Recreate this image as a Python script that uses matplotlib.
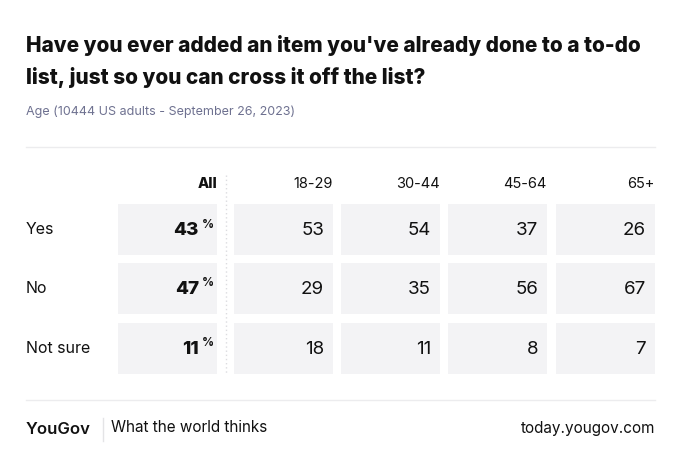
import matplotlib
matplotlib.use("Agg")
import matplotlib.pyplot as plt
from matplotlib.patches import Rectangle

title_lines = ["Have you ever added an item you've already done to a to-do",
               "list, just so you can cross it off the list?"]
subtitle = "Age (10444 US adults - September 26, 2023)"
rows = ["Yes", "No", "Not sure"]
columns = ["All", "18-29", "30-44", "45-64", "65+"]
all_values = [43, 47, 11]
age_values = {
    "18-29": [53, 29, 18],
    "30-44": [54, 35, 11],
    "45-64": [37, 56, 8],
    "65+": [26, 67, 7],
}

W, H = 680, 468
fig = plt.figure(figsize=(W / 100, H / 100), dpi=100)
ax = fig.add_axes([0, 0, 1, 1])
ax.set_xlim(0, W)
ax.set_ylim(H, 0)
ax.axis("off")

FONT = "Inter"
dark = "#111111"
cell_bg = "#f3f3f5"

# title
for k, line in enumerate(title_lines):
    ax.text(26, 45 + 32 * k, line, fontsize=15.0, fontweight=800, family=FONT,
            color=dark, va="center", ha="left")
ax.text(26, 112, subtitle, fontsize=9.0, family=FONT, color="#6e7190",
        va="center", ha="left")
ax.plot([26, 655], [147, 147], color="#ececee", lw=1)

# grid geometry
col_left = [118, 234, 341, 448, 556]
col_w = 99
row_top = [204, 263, 323]
row_h = 51

# headers
for i, c in enumerate(columns):
    ax.text(col_left[i] + col_w, 184, c, fontsize=10.5, family=FONT,
            fontweight=800 if c == "All" else "normal",
            color=dark, ha="right", va="center")

# dotted separator
ax.plot([226, 226], [175, 374], color="#dcdce0", lw=1, ls=(0, (1, 2)))

for r, label in enumerate(rows):
    yc = row_top[r] + row_h / 2
    ax.text(26, yc, label, fontsize=11.5, family=FONT, color=dark,
            ha="left", va="center")
    for i, c in enumerate(columns):
        ax.add_patch(Rectangle((col_left[i], row_top[r]), col_w, row_h,
                               facecolor=cell_bg, edgecolor="none"))
    # All column
    ax.text(col_left[0] + col_w - 18, yc + 1, str(all_values[r]), fontsize=13.5,
            family=FONT, fontweight=800, color=dark, ha="right", va="center")
    ax.text(col_left[0] + col_w - 15, yc - 5, "%", fontsize=8.5,
            family=FONT, fontweight="bold", color=dark, ha="left", va="center")
    for i, c in enumerate(columns[1:], start=1):
        ax.text(col_left[i] + col_w - 9, yc + 1, str(age_values[c][r]),
                fontsize=13.5, family=FONT, color=dark, ha="right", va="center")

# footer
ax.plot([26, 655], [400, 400], color="#ececee", lw=1)
ax.text(26, 429, "YouGov", fontsize=12, family=FONT, fontweight="semibold",
        color=dark, ha="left", va="center")
ax.plot([103, 103], [418, 441], color="#e4e4e6", lw=1)
ax.text(111, 428, "What the world thinks", fontsize=11, family=FONT,
        color=dark, ha="left", va="center")
ax.text(655, 428, "today.yougov.com", fontsize=11, family=FONT,
        color=dark, ha="right", va="center")

fig.savefig("out.png", dpi=100, facecolor="white")
